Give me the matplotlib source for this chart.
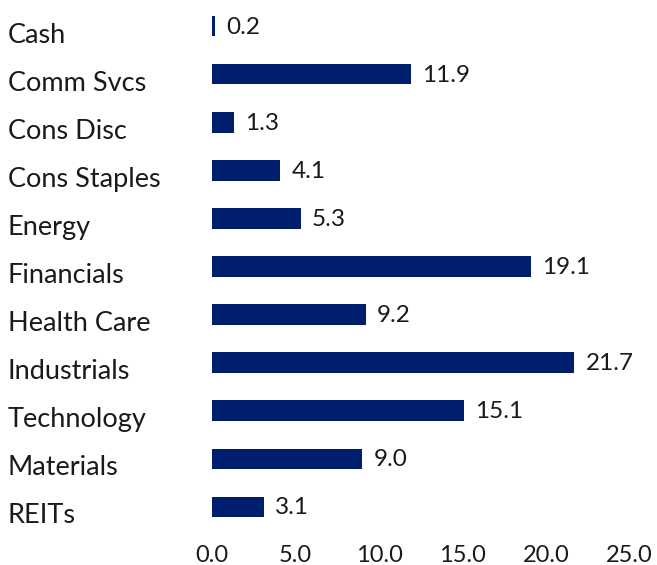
import matplotlib
matplotlib.use('Agg')
import matplotlib.pyplot as plt
from matplotlib.transforms import offset_copy, blended_transform_factory

sectors = ['Cash', 'Comm Svcs', 'Cons Disc', 'Cons Staples', 'Energy', 'Financials',
           'Health Care', 'Industrials', 'Technology', 'Materials', 'REITs']
weights = [0.2, 11.9, 1.3, 4.1, 5.3, 19.1, 9.2, 21.7, 15.1, 9.0, 3.1]
xticks = [0, 5, 10, 15, 20, 25]

plt.rcParams['font.family'] = ['Lato', 'DejaVu Sans']
navy = '#001e6e'
txt = '#1a1a1a'

fig = plt.figure(figsize=(6.57, 5.65), dpi=100)
ax = fig.add_axes([212 / 657, 34 / 565, 417.5 / 657, 529 / 565])

y = list(range(len(sectors)))
ax.barh(y, weights, height=0.43, color=navy)
ax.set_ylim(len(sectors) - 0.5, -0.5)
ax.set_xlim(0, 25)

for yi, v in zip(y, weights):
    ax.annotate('%.1f' % v, (v, yi), xytext=(11, -1), textcoords='offset pixels',
                va='center', ha='left', fontsize=17.5, color=txt)

# category names, left aligned near figure edge, nudged down a bit
tr = blended_transform_factory(fig.transFigure, ax.transData)
tr = offset_copy(tr, fig=fig, x=0, y=-9, units='dots')
for yi, name in zip(y, sectors):
    ax.text(8 / 657, yi, name, transform=tr, ha='left', va='center',
            fontsize=19.5, color=txt)

ax.set_yticks([])
ax.set_xticks(xticks)
ax.set_xticklabels(['%.1f' % t for t in xticks], fontsize=17, color=txt)
ax.tick_params(axis='x', length=0, pad=10)
for s in ax.spines.values():
    s.set_visible(False)

fig.savefig('out.png', dpi=100)
